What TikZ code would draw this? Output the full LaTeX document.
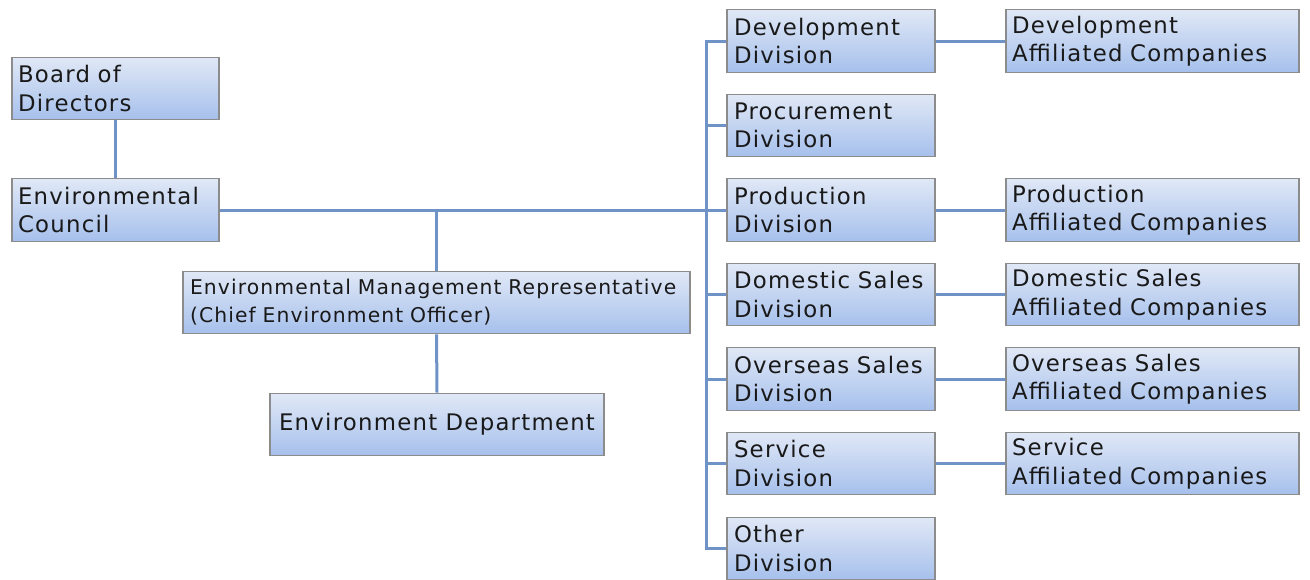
\documentclass[tikz,border=0pt]{standalone}
\usepackage{fontspec}
\setmainfont{DejaVu Sans}[LetterSpace=5.5]
\definecolor{conncol}{RGB}{111,146,199}
\definecolor{bordcol}{RGB}{140,140,140}
\definecolor{topcol}{RGB}{224,232,246}
\definecolor{botcol}{RGB}{166,192,236}
\definecolor{txtcol}{RGB}{25,25,25}
\begin{document}
\begin{tikzpicture}[x=1pt,y=-1pt,
  box/.style={draw=bordcol,line width=1.3pt,top color=topcol,bottom color=botcol,
    minimum height=62.5pt,inner xsep=6pt,inner ysep=0pt,align=left,
    text=txtcol,font=\fontsize{22.8}{28.5}\selectfont},
  conn/.style={draw=conncol,line width=3pt}]
\useasboundingbox (0,0) rectangle (1310,579);
% left column
\node[box,minimum width=207pt,text width=195pt] (board) at (115.5,88.5) {Board of\\Directors};
\node[box,minimum width=207pt,text width=195pt] (council) at (115.5,210) {Environmental\\Council};
\node[box,minimum width=507pt,text width=493pt,inner xsep=7pt,font=\fontsize{20.3}{28}\selectfont] (emr) at (436.5,302.5) {Environmental Management Representative\\(Chief Environment Officer)};
\node[box,minimum width=334pt,align=center] (dept) at (437,424.5) {Environment Department};
% divisions
\foreach \n/\y/\t in {dev/41/Development, proc/125.5/Procurement, prod/210/Production, dom/294.5/Domestic Sales, ovs/379/Overseas Sales, svc/463.5/Service, oth/548.5/Other}
  \node[box,minimum width=208pt,text width=194pt,inner xsep=7pt] (\n) at (831,\y) {\t\\Division};
% affiliated
\foreach \n/\y/\t in {adev/41/Development, aprod/210/Production, adom/294.5/Domestic Sales, aovs/379/Overseas Sales, asvc/463.5/Service}
  \node[box,minimum width=293pt,text width=281pt] (\n) at (1152.5,\y) {\t\\Affiliated Companies};
% connectors
\coordinate (sp) at (706,0);
\draw[conn] (board.south) -- (council.north);
\draw[conn] (council.east) -- (prod.west);
\draw[conn] (emr.north |- council.east) -- (emr.north);
\draw[conn] (emr.south) -- (dept.north);
\draw[conn] (dev.west) -| (sp |- oth.west) -- (oth.west);
\foreach \n in {proc,dom,ovs,svc}
  \draw[conn] (sp |- \n.west) -- (\n.west);
\draw[conn] (dev.east) -- (adev.west);
\draw[conn] (prod.east) -- (aprod.west);
\draw[conn] (dom.east) -- (adom.west);
\draw[conn] (ovs.east) -- (aovs.west);
\draw[conn] (svc.east) -- (asvc.west);
\end{tikzpicture}
\end{document}
